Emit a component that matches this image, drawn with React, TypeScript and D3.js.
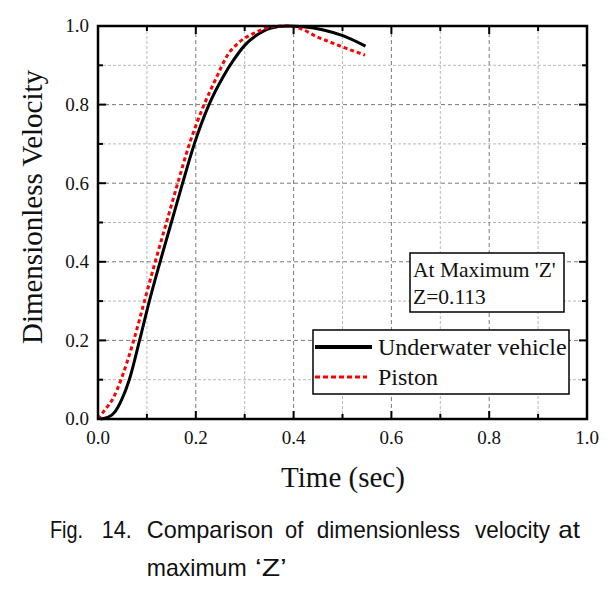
import { useEffect, useRef } from 'react';
import * as d3 from 'd3';

// values
const vehicleTime = [0.005, 0.02, 0.035, 0.048, 0.064, 0.085, 0.105, 0.127, 0.15, 0.173, 0.197, 0.227, 0.256, 0.277, 0.301, 0.325, 0.352, 0.386, 0.42, 0.461, 0.502, 0.547];
const vehicleVel = [0, 0.004, 0.019, 0.048, 0.1, 0.2, 0.3, 0.4, 0.5, 0.6, 0.7, 0.8, 0.871, 0.913, 0.952, 0.977, 0.994, 1.0, 0.998, 0.99, 0.975, 0.949];
const pistonTime = [0, 0.014, 0.031, 0.047, 0.073, 0.095, 0.117, 0.14, 0.163, 0.187, 0.217, 0.243, 0.263, 0.29, 0.318, 0.352, 0.386, 0.413, 0.447, 0.481, 0.508, 0.546];
const pistonVel = [0, 0.023, 0.053, 0.1, 0.2, 0.3, 0.4, 0.5, 0.6, 0.7, 0.8, 0.871, 0.922, 0.96, 0.981, 0.997, 1.0, 0.994, 0.973, 0.956, 0.943, 0.926];
const majorTicks = [0, 0.2, 0.4, 0.6, 0.8, 1.0];
const minorTicks = [0.1, 0.3, 0.5, 0.7, 0.9];
const tickLabels = ['0.0', '0.2', '0.4', '0.6', '0.8', '1.0'];
const seriesNames = ['Underwater vehicle', 'Piston'];
const noteLines = ["At Maximum 'Z'", 'Z=0.113'];
const captionLine1 = ['Fig.', '14.', 'Comparison', 'of', 'dimensionless', 'velocity', 'at'];
const captionLine2 = ['maximum', '\u2018Z\u2019'];

const serif = '"Liberation Serif", "Times New Roman", serif';
const sans = '"Liberation Sans", Arial, sans-serif';

const App = () => {
  const ref = useRef<SVGSVGElement>(null!);

  useEffect(() => {
    const width = 615;
    const height = 592;
    const left = 98;
    const right = 587;
    const top = 26;
    const bottom = 419;

    const x = d3.scaleLinear().domain([0, 1]).range([left, right]);
    const y = d3.scaleLinear().domain([0, 1]).range([bottom, top]);

    const svg = d3.select(ref.current).attr('width', width).attr('height', height);
    svg.selectAll('*').remove();
    svg.append('rect').attr('width', width).attr('height', height).attr('fill', '#fff');

    const grid = svg.append('g');
    const inner = (v: number) => v > 0 && v < 1;
    // minor grid
    minorTicks.forEach(v => {
      grid.append('line').attr('x1', x(v)).attr('x2', x(v)).attr('y1', top).attr('y2', bottom)
        .attr('stroke', '#b8b8b8').attr('stroke-dasharray', '3,2').attr('stroke-width', 1);
      grid.append('line').attr('x1', left).attr('x2', right).attr('y1', y(v)).attr('y2', y(v))
        .attr('stroke', '#b8b8b8').attr('stroke-dasharray', '3,2').attr('stroke-width', 1);
    });
    // major grid
    majorTicks.filter(inner).forEach(v => {
      grid.append('line').attr('x1', x(v)).attr('x2', x(v)).attr('y1', top).attr('y2', bottom)
        .attr('stroke', '#7a7a7a').attr('stroke-dasharray', '4,3').attr('stroke-width', 1);
      grid.append('line').attr('x1', left).attr('x2', right).attr('y1', y(v)).attr('y2', y(v))
        .attr('stroke', '#7a7a7a').attr('stroke-dasharray', '4,3').attr('stroke-width', 1);
    });

    // curves
    const line = d3.line<[number, number]>()
      .x(d => x(d[0]))
      .y(d => y(d[1]))
      .curve(d3.curveMonotoneX);
    const vehicle = vehicleTime.map((t, i) => [t, vehicleVel[i]] as [number, number]);
    const piston = pistonTime.map((t, i) => [t, pistonVel[i]] as [number, number]);

    svg.append('path').attr('d', line(vehicle)).attr('fill', 'none')
      .attr('stroke', '#000').attr('stroke-width', 3);
    svg.append('path').attr('d', line(piston)).attr('fill', 'none')
      .attr('stroke', '#ff0000').attr('stroke-width', 3).attr('stroke-dasharray', '4,3');

    // ticks, inward on all four sides
    const ticks = svg.append('g').attr('stroke', '#000').attr('stroke-width', 2);
    const all = [...majorTicks.map(v => [v, 8]), ...minorTicks.map(v => [v, 5])];
    all.forEach(([v, len]) => {
      ticks.append('line').attr('x1', x(v)).attr('x2', x(v)).attr('y1', bottom).attr('y2', bottom - len);
      ticks.append('line').attr('x1', x(v)).attr('x2', x(v)).attr('y1', top).attr('y2', top + len);
      ticks.append('line').attr('x1', left).attr('x2', left + len).attr('y1', y(v)).attr('y2', y(v));
      ticks.append('line').attr('x1', right).attr('x2', right - len).attr('y1', y(v)).attr('y2', y(v));
    });

    svg.append('rect').attr('x', left).attr('y', top).attr('width', right - left).attr('height', bottom - top)
      .attr('fill', 'none').attr('stroke', '#000').attr('stroke-width', 2.5);

    // tick labels
    majorTicks.forEach((v, i) => {
      svg.append('text').attr('x', left - 9).attr('y', y(v)).attr('dy', '0.34em')
        .attr('text-anchor', 'end').attr('font-family', serif).attr('font-size', 19)
        .attr('fill', '#111').text(tickLabels[i]);
      svg.append('text').attr('x', x(v)).attr('y', 444)
        .attr('text-anchor', 'middle').attr('font-family', serif).attr('font-size', 19)
        .attr('fill', '#111').text(tickLabels[i]);
    });

    // axis titles
    svg.append('text').attr('transform', 'translate(42,207) rotate(-90)')
      .attr('text-anchor', 'middle').attr('font-family', serif).attr('font-size', 29)
      .attr('fill', '#111').text('Dimensionless Velocity');
    svg.append('text').attr('x', 343).attr('y', 487)
      .attr('text-anchor', 'middle').attr('font-family', serif).attr('font-size', 29)
      .attr('fill', '#111').text('Time (sec)');

    // annotation box
    svg.append('rect').attr('x', 410).attr('y', 253).attr('width', 154).attr('height', 59)
      .attr('fill', '#fff').attr('stroke', '#000').attr('stroke-width', 1.5);
    noteLines.forEach((s, i) => {
      svg.append('text').attr('x', 413).attr('y', 277 + i * 27)
        .attr('font-family', serif).attr('font-size', 21.5).attr('fill', '#111').text(s);
    });

    // legend
    svg.append('rect').attr('x', 313).attr('y', 330).attr('width', 256).attr('height', 64)
      .attr('fill', '#fff').attr('stroke', '#000').attr('stroke-width', 1.5);
    svg.append('line').attr('x1', 315).attr('x2', 372).attr('y1', 347).attr('y2', 347)
      .attr('stroke', '#000').attr('stroke-width', 4);
    svg.append('line').attr('x1', 315).attr('x2', 367).attr('y1', 377).attr('y2', 377)
      .attr('stroke', '#ff0000').attr('stroke-width', 3).attr('stroke-dasharray', '5,3');
    seriesNames.forEach((s, i) => {
      svg.append('text').attr('x', 378).attr('y', 355 + i * 30)
        .attr('font-family', serif).attr('font-size', 24).attr('fill', '#111').text(s);
    });

    // caption, justified word by word
    const line1Layout = [[50, 33], [101.7, 30], [146.7, 126.6], [285, 18.3], [316.7, 143.3], [475, 75], [558.3, 21.7]];
    const line2Layout = [[146.7, 100], [255, 31.7]];
    const caption = svg.append('g').attr('font-family', sans).attr('font-size', 24).attr('fill', '#111');
    captionLine1.forEach((w, i) => {
      caption.append('text').attr('x', line1Layout[i][0]).attr('y', 538)
        .attr('textLength', line1Layout[i][1]).attr('lengthAdjust', 'spacingAndGlyphs').text(w);
    });
    captionLine2.forEach((w, i) => {
      caption.append('text').attr('x', line2Layout[i][0]).attr('y', 576)
        .attr('textLength', line2Layout[i][1]).attr('lengthAdjust', 'spacingAndGlyphs').text(w);
    });

    return () => {
      ref.current.innerHTML = '';
    };
  }, []);

  return <svg ref={ref} style={{ position: 'absolute', left: 0, top: 0 }}></svg>;
};

export default App;
